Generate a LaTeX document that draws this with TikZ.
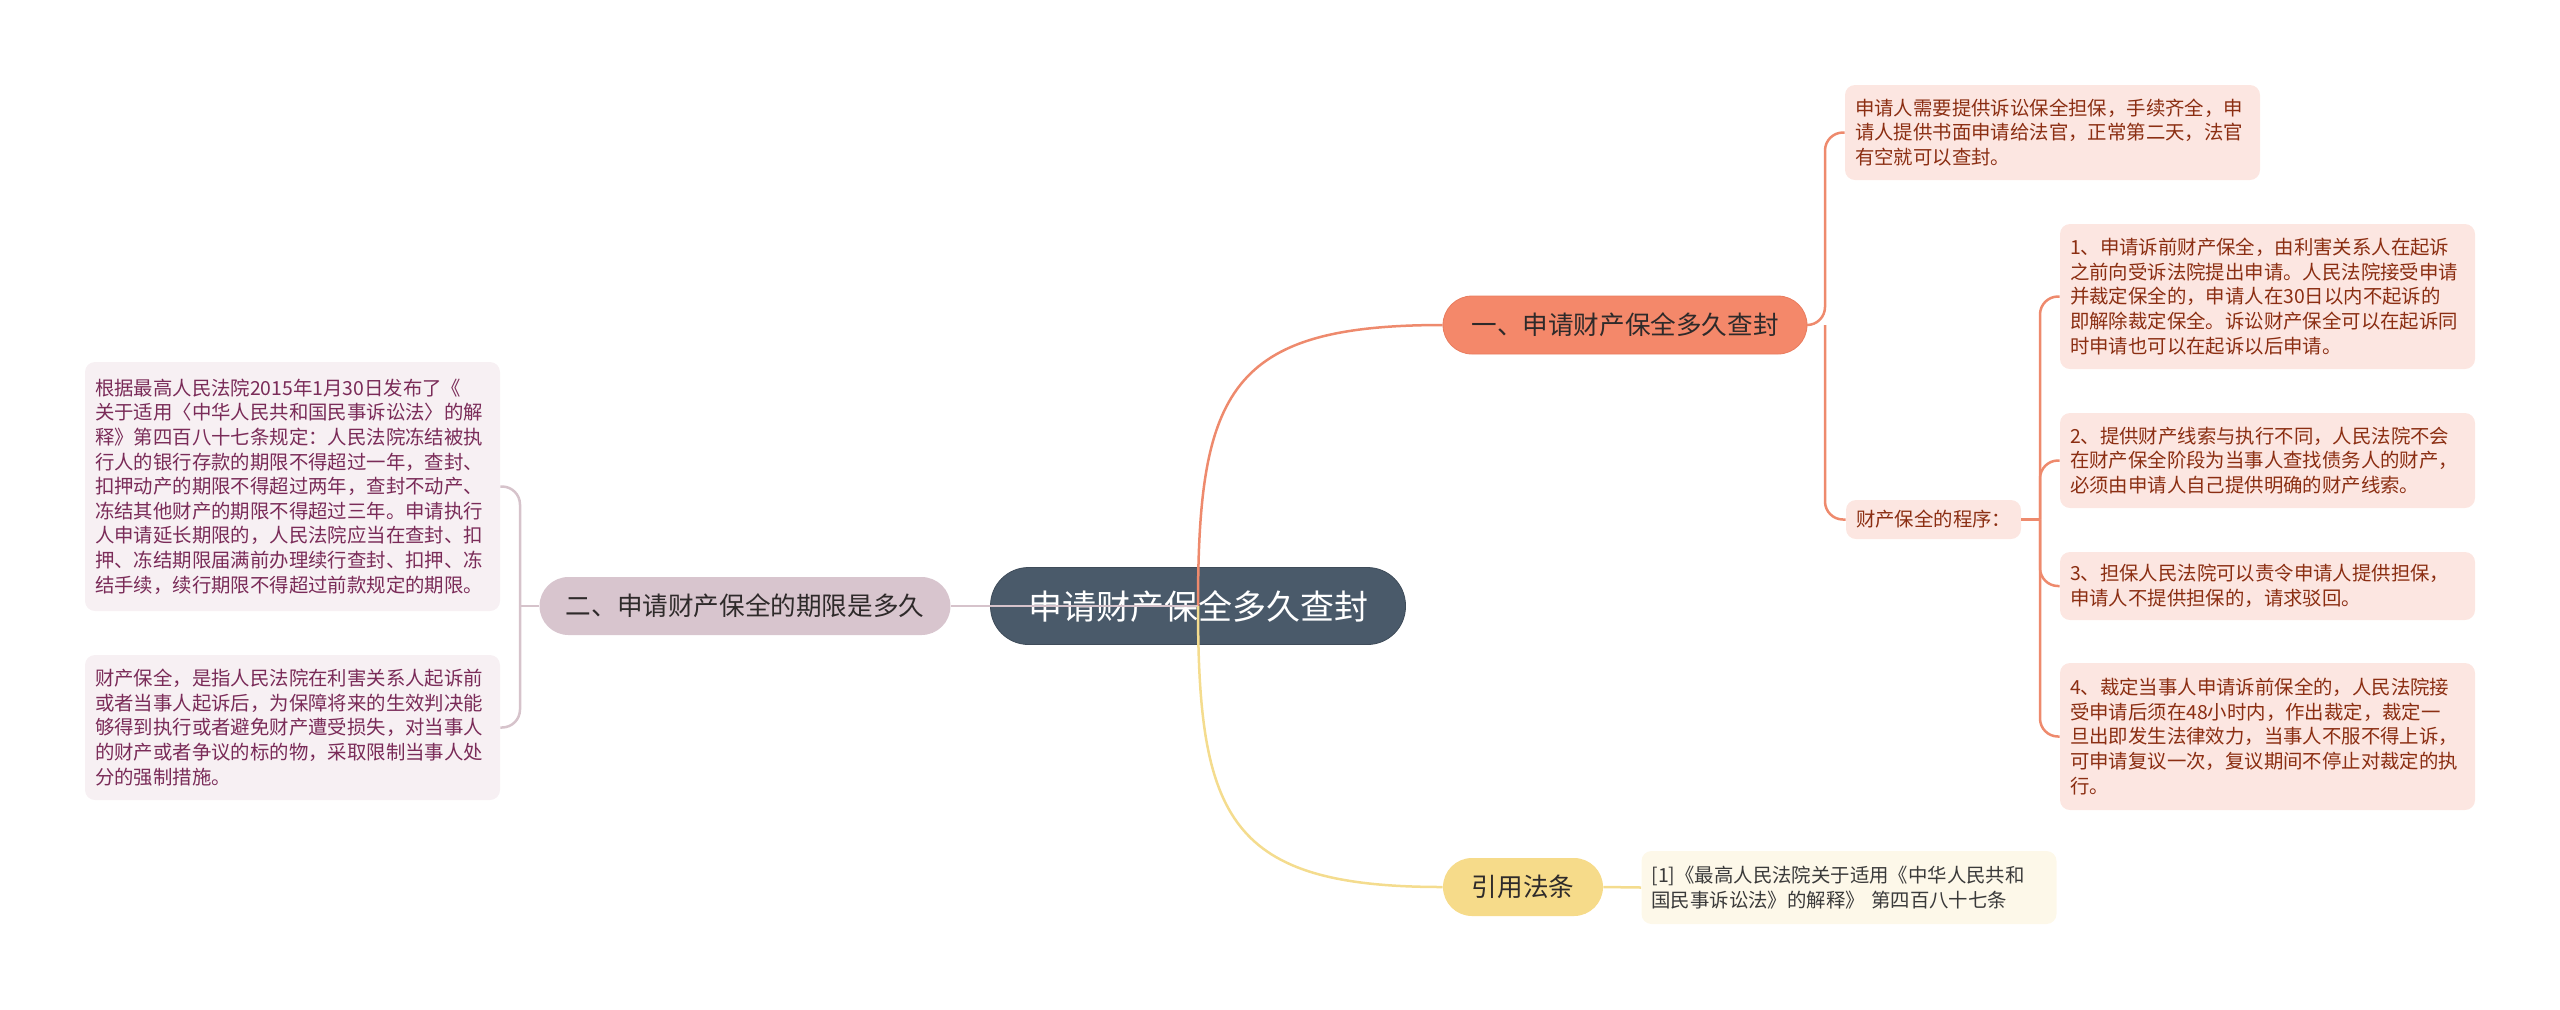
\documentclass[tikz,border=0pt]{standalone}
\usepackage{fontspec}
\setmainfont{Noto Sans CJK SC}

\definecolor{fondoraiz}{HTML}{4A5A6A}
\definecolor{fondouno}{HTML}{F4886A}
\definecolor{bordeuno}{HTML}{E97C5E}
\definecolor{fondodos}{HTML}{D8C5CE}
\definecolor{fondotres}{HTML}{F6DB8A}
\definecolor{hojader}{HTML}{FCE6E1}
\definecolor{textoder}{HTML}{8B2E12}
\definecolor{hojaizq}{HTML}{F7F0F3}
\definecolor{textoizq}{HTML}{7A2B58}
\definecolor{hojacita}{HTML}{FDF8E9}
\definecolor{textocita}{HTML}{3A3A3A}
\definecolor{textorama}{HTML}{2E2A2A}
\definecolor{lineauno}{HTML}{EE8A6D}
\definecolor{lineados}{HTML}{D6C3CB}
\definecolor{lineatres}{HTML}{F4DC8E}

\tikzset{
  tema/.style={rounded corners=19pt, fill=fondoraiz, draw=fondoraiz!85!black,
    text=white, minimum width=207.5pt, minimum height=38.5pt, inner sep=0pt,
    font=\fontsize{17pt}{20pt}\selectfont},
  rama/.style={rounded corners=14.5pt, minimum height=29pt, inner sep=0pt,
    text=textorama, font=\fontsize{12.8pt}{15pt}\selectfont},
  hoja/.style={rounded corners=5pt, align=left, text width=197.5pt,
    inner xsep=5pt, inner ysep=0pt, font=\fontsize{9.7pt}{12.3pt}\selectfont},
  hojaR/.style={hoja, fill=hojader, text=textoder},
  hojaL/.style={hoja, fill=hojaizq, text=textoizq},
  hojaC/.style={hoja, fill=hojacita, text=textocita},
  conA/.style={draw=lineauno, line width=1.25pt, rounded corners=9pt},
  conB/.style={draw=lineados, line width=1.25pt, rounded corners=9pt},
  conC/.style={draw=lineatres, line width=1.25pt},
}

\begin{document}
\begin{tikzpicture}[x=0.5pt, y=-0.5pt]
  \useasboundingbox (0,0) rectangle (2560,1009);

  % Tema central y ramas
  \node[tema] (raiz) at (1198,606) {申请财产保全多久查封};
  \node[rama, fill=fondouno, draw=bordeuno, minimum width=182pt] (uno) at (1625,325) {一、申请财产保全多久查封};
  \node[rama, fill=fondodos, minimum width=205.5pt] (dos) at (745,606) {二、申请财产保全的期限是多久};
  \node[rama, fill=fondotres, minimum width=80pt] (tres) at (1523,887) {引用法条};

  % Hojas de la rama uno
  \node[hojaR, minimum height=47.5pt] (ha) at (2052.5,132.5)
    {申请人需要提供诉讼保全担保，手续齐全，申\\请人提供书面申请给法官，正常第二天，法官\\有空就可以查封。};
  \node[hojaR, text width=77.5pt, minimum height=19.5pt] (proc) at (1933.5,519.5) {财产保全的程序：};
  \node[hojaR, minimum height=72.5pt] (p1) at (2267.5,296.5)
    {1、申请诉前财产保全，由利害关系人在起诉\\之前向受诉法院提出申请。人民法院接受申请\\并裁定保全的，申请人在30日以内不起诉的\\即解除裁定保全。诉讼财产保全可以在起诉同\\时申请也可以在起诉以后申请。};
  \node[hojaR, minimum height=47.5pt] (p2) at (2267.5,460.5)
    {2、提供财产线索与执行不同，人民法院不会\\在财产保全阶段为当事人查找债务人的财产，\\必须由申请人自己提供明确的财产线索。};
  \node[hojaR, minimum height=34pt] (p3) at (2267.5,586)
    {3、担保人民法院可以责令申请人提供担保，\\申请人不提供担保的，请求驳回。};
  \node[hojaR, minimum height=73.5pt] (p4) at (2267.5,736.5)
    {4、裁定当事人申请诉前保全的，人民法院接\\受申请后须在48小时内，作出裁定，裁定一\\旦出即发生法律效力，当事人不服不得上诉，\\可申请复议一次，复议期间不停止对裁定的执\\行。};

  % Hojas de la rama dos
  \node[hojaL, minimum height=124.5pt] (l1) at (292.5,486.5)
    {根据最高人民法院2015年1月30日发布了《\\关于适用〈中华人民共和国民事诉讼法〉的解\\释》第四百八十七条规定：人民法院冻结被执\\行人的银行存款的期限不得超过一年，查封、\\扣押动产的期限不得超过两年，查封不动产、\\冻结其他财产的期限不得超过三年。申请执行\\人申请延长期限的，人民法院应当在查封、扣\\押、冻结期限届满前办理续行查封、扣押、冻\\结手续，续行期限不得超过前款规定的期限。};
  \node[hojaL, minimum height=72.5pt] (l2) at (292.5,727.5)
    {财产保全，是指人民法院在利害关系人起诉前\\或者当事人起诉后，为保障将来的生效判决能\\够得到执行或者避免财产遭受损失，对当事人\\的财产或者争议的标的物，采取限制当事人处\\分的强制措施。};

  % Hoja de la rama tres
  \node[hojaC, minimum height=36.5pt] (cita) at (1849,887.5)
    {[1]《最高人民法院关于适用《中华人民共和\\国民事诉讼法》的解释》 第四百八十七条};

  % Conectores desde el tema central
  \draw[conA, rounded corners=0pt] (raiz.center) .. controls (1198,390) and (1230,325) .. (uno.west);
  \draw[conB] (raiz.center) -- (dos.east);
  \draw[conC] (raiz.center) .. controls (1198,820) and (1230,887) .. (tres.west);

  % Conectores de la rama uno
  \coordinate (j1) at (1825,325);
  \draw[conA] (uno.east) -- (j1) |- (ha.west);
  \draw[conA] (j1) |- (proc.west);
  \coordinate (j2) at (2040,519.5);
  \draw[conA] (proc.east) -- (j2);
  \draw[conA] (j2) |- (p1.west);
  \draw[conA] (j2) |- (p2.west);
  \draw[conA] (j2) |- (p3.west);
  \draw[conA] (j2) |- (p4.west);

  % Conectores de la rama dos
  \coordinate (j3) at (520,606);
  \draw[conB] (dos.west) -- (j3);
  \draw[conB] (j3) |- (l1.east);
  \draw[conB] (j3) |- (l2.east);

  % Conector de la rama tres
  \draw[conC] (tres.east) -- (cita.west);
\end{tikzpicture}
\end{document}
